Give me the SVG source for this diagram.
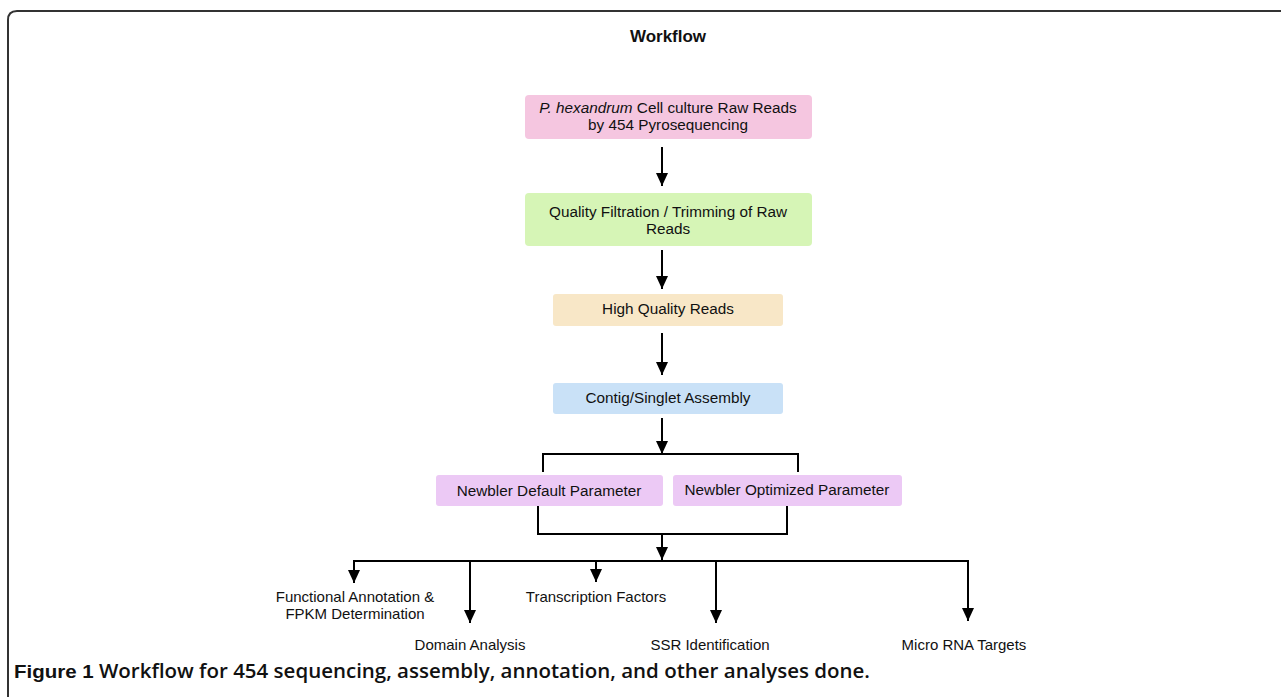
<svg xmlns="http://www.w3.org/2000/svg" width="1281" height="697" viewBox="0 0 1281 697">
<style>
text{font-family:"Liberation Sans",Arial,sans-serif;fill:#111}
.n{font-size:15px;text-anchor:middle}
.b{font-size:15.3px;text-anchor:middle}
.c{stroke:#000;stroke-width:2;fill:none}
.a{stroke:#000;stroke-width:2;fill:none;marker-end:url(#ah)}
</style>
<defs>
<marker id="ah" viewBox="0 0 13 12" refX="13" refY="6" markerWidth="13" markerHeight="12" markerUnits="userSpaceOnUse" orient="auto">
<path d="M0,0 L13,6 L0,12 Z" fill="#000"/>
</marker>
</defs>
<rect width="1281" height="697" fill="#fff"/>
<path d="M8,697 V20 Q8,11 17,11 H1281" stroke="#333" stroke-width="2" fill="none"/>
<text x="668" y="42" font-weight="bold" text-anchor="middle" style="font-size:17px">Workflow</text>

<g id="n1"><rect x="525" y="95" width="287" height="44" rx="4" fill="#f5c6e0"/>
<text class="b" x="668" y="113"><tspan font-style="italic">P. hexandrum</tspan> Cell culture Raw Reads</text>
<text class="b" x="668" y="130">by 454 Pyrosequencing</text></g>
<g id="n2"><rect x="525" y="193" width="287" height="53" rx="4" fill="#d6f5b6"/>
<text class="b" x="668" y="217">Quality Filtration / Trimming of Raw</text>
<text class="b" x="668" y="234">Reads</text></g>
<g id="n3"><rect x="553" y="294" width="230" height="32" rx="3" fill="#f8e7c7"/>
<text class="b" x="668" y="314">High Quality Reads</text></g>
<g id="n4"><rect x="553" y="383" width="230" height="31" rx="3" fill="#c9e1f7"/>
<text class="b" x="668" y="403">Contig/Singlet Assembly</text></g>
<g id="n5"><rect x="436" y="475" width="227" height="31" rx="3" fill="#ecc9f5"/>
<text class="b" x="549" y="496">Newbler Default Parameter</text></g>
<g id="n6"><rect x="673" y="475" width="229" height="31" rx="3" fill="#ecc9f5"/>
<text class="b" x="787" y="495">Newbler Optimized Parameter</text></g>

<g id="o1"><text class="n" x="355" y="602">Functional Annotation &amp;</text><text class="n" x="355" y="619">FPKM Determination</text></g>
<g id="o2"><text class="n" x="470" y="650">Domain Analysis</text></g>
<g id="o3"><text class="n" x="596" y="602">Transcription Factors</text></g>
<g id="o4"><text class="n" x="710" y="650">SSR Identification</text></g>
<g id="o5"><text class="n" x="964" y="650">Micro RNA Targets</text></g>

<g id="connectors">
<line class="a" x1="662" y1="147" x2="662" y2="186"/>
<line class="a" x1="662" y1="250" x2="662" y2="289"/>
<line class="a" x1="662" y1="333" x2="662" y2="375"/>
<line class="a" x1="662" y1="418" x2="662" y2="454"/>
<path class="c" d="M543,472 V454 H798 V472"/>
<path class="c" d="M538,506 V534 H787 V506"/>
<line class="a" x1="662" y1="534" x2="662" y2="560"/>
<path class="c" d="M354,572 V561 H968 V572"/>
<line class="a" x1="354" y1="561" x2="354" y2="583"/>
<line class="a" x1="470" y1="561" x2="470" y2="623"/>
<line class="a" x1="596" y1="561" x2="596" y2="582"/>
<line class="a" x1="716" y1="561" x2="716" y2="623"/>
<line class="a" x1="968" y1="561" x2="968" y2="621"/>
</g>

<text x="14" y="678" style="font-size:19px" fill="#111" textLength="856" lengthAdjust="spacingAndGlyphs"><tspan font-weight="bold">Figure 1</tspan><tspan font-family="Open Sans" font-weight="600"> Workflow for 454 sequencing, assembly, annotation, and other analyses done.</tspan></text>
</svg>
